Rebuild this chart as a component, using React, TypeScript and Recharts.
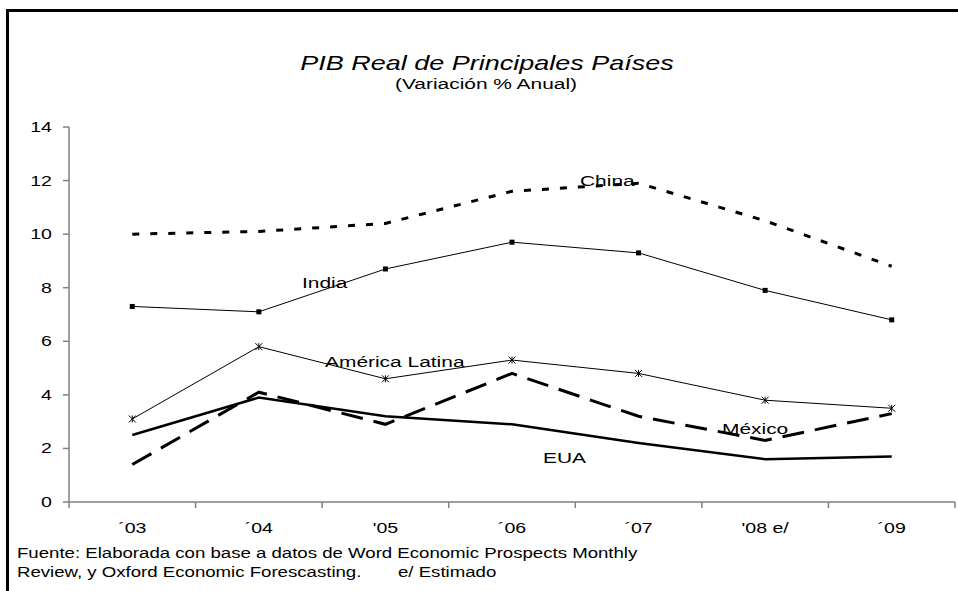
import React from "react";
import { LineChart, Line, XAxis, YAxis } from "recharts";

// Variación % anual del PIB real
const years = ["´03", "´04", "'05", "´06", "´07", "'08 e/", "´09"];
const china = [10.0, 10.1, 10.4, 11.6, 11.9, 10.5, 8.8];
const india = [7.3, 7.1, 8.7, 9.7, 9.3, 7.9, 6.8];
const latam = [3.1, 5.8, 4.6, 5.3, 4.8, 3.8, 3.5];
const mexico = [1.4, 4.1, 2.9, 4.8, 3.2, 2.3, 3.3];
const eua = [2.5, 3.9, 3.2, 2.9, 2.2, 1.6, 1.7];
const yTicks = [0, 2, 4, 6, 8, 10, 12, 14];

const data = years.map((y, i) => ({
  year: y,
  china: china[i],
  india: india[i],
  latam: latam[i],
  mexico: mexico[i],
  eua: eua[i],
}));

const FONT = '"Liberation Sans", Arial, sans-serif';
const SX = 1.35; // el original está estirado en horizontal
const AXIS = "#808080";
const TICK = 6;
const X_MARGIN = 4;

function Txt({ x, y, size, children, anchor = "start", italic = false }: any) {
  return (
    <text
      transform={`translate(${x},${y}) scale(${SX},1)`}
      textAnchor={anchor}
      fontSize={size}
      fontStyle={italic ? "italic" : "normal"}
      fontFamily={FONT}
      fill="#000"
    >
      {children}
    </text>
  );
}

function XTick(props: any) {
  const { x, y, payload, index, visibleTicksCount } = props;
  const axisY = y - TICK - X_MARGIN;
  const off = payload.offset ?? 0;
  return (
    <g>
      <line x1={x - off} x2={x - off} y1={axisY} y2={axisY + TICK} stroke={AXIS} strokeWidth={1.5} />
      {index === visibleTicksCount - 1 && (
        <line x1={x + off} x2={x + off} y1={axisY} y2={axisY + TICK} stroke={AXIS} strokeWidth={1.5} />
      )}
      <Txt x={x} y={y + 21} size={14.5} anchor="middle">
        {payload.value}
      </Txt>
    </g>
  );
}

function YTick(props: any) {
  const { x, y, payload } = props;
  return (
    <Txt x={x} y={y + 5} size={14.5} anchor="end">
      {payload.value}
    </Txt>
  );
}

function SquareDot(props: any) {
  const { cx, cy, index } = props;
  return <rect key={`sq-${index}`} x={cx - 2.5} y={cy - 2.5} width={5} height={5} fill="#000" />;
}

function StarDot(props: any) {
  const { cx, cy, index } = props;
  const r = 3.5;
  return (
    <g key={`st-${index}`} stroke="#000" strokeWidth={1}>
      <line x1={cx} x2={cx} y1={cy - r} y2={cy + r} />
      <line x1={cx - r} x2={cx + r} y1={cy - r} y2={cy + r} />
      <line x1={cx - r} x2={cx + r} y1={cy + r} y2={cy - r} />
    </g>
  );
}

export default function App() {
  return (
    <div style={{ position: "absolute", left: 0, top: 0, width: 958, height: 591, background: "#fff", overflow: "hidden" }}>
      <div
        style={{
          position: "absolute",
          left: 6,
          top: 9,
          width: 960,
          height: 600,
          borderLeft: "3px solid #000",
          borderTop: "3px solid #000",
        }}
      />
      <div style={{ position: "absolute", left: 0, top: 0 }}>
        <LineChart width={958} height={591} data={data} margin={{ top: 127, right: 3, bottom: 59, left: 0 }}>
          <XAxis
            dataKey="year"
            scale="band"
            height={30}
            stroke={AXIS}
            axisLine={{ stroke: AXIS, strokeWidth: 1.5 }}
            tickLine={false}
            tickSize={TICK}
            tickMargin={X_MARGIN}
            tick={<XTick />}
            interval={0}
          />
          <YAxis
            width={69}
            domain={[0, 14]}
            ticks={yTicks}
            interval={0}
            axisLine={{ stroke: AXIS, strokeWidth: 1.5 }}
            tickLine={{ stroke: AXIS, strokeWidth: 1.5 }}
            tickSize={TICK}
            tickMargin={11}
            tick={<YTick />}
          />
          <Line dataKey="china" type="linear" stroke="#000" strokeWidth={3} strokeDasharray="7 11" dot={false} isAnimationActive={false} />
          <Line dataKey="india" type="linear" stroke="#000" strokeWidth={1} dot={<SquareDot />} isAnimationActive={false} />
          <Line dataKey="latam" type="linear" stroke="#000" strokeWidth={1} dot={<StarDot />} isAnimationActive={false} />
          <Line dataKey="mexico" type="linear" stroke="#000" strokeWidth={3} strokeDasharray="22 11" dot={false} isAnimationActive={false} />
          <Line dataKey="eua" type="linear" stroke="#000" strokeWidth={2.5} dot={false} isAnimationActive={false} />
        </LineChart>
      </div>
      <svg width={958} height={591} style={{ position: "absolute", left: 0, top: 0, pointerEvents: "none" }}>
        <Txt x={487} y={70} size={20} anchor="middle" italic>
          PIB Real de Principales Países
        </Txt>
        <Txt x={486} y={89} size={15.5} anchor="middle">
          (Variación % Anual)
        </Txt>
        <Txt x={580} y={186} size={15.5}>China</Txt>
        <Txt x={302} y={288} size={15.5}>India</Txt>
        <Txt x={325} y={367} size={15.5}>América Latina</Txt>
        <Txt x={722} y={434} size={15.5}>México</Txt>
        <Txt x={543} y={463} size={15.5}>EUA</Txt>
        <Txt x={17} y={558} size={13.8}>
          Fuente: Elaborada con base a datos de Word Economic Prospects Monthly
        </Txt>
        <Txt x={17} y={577} size={13.8}>
          Review, y Oxford Economic Forescasting.
        </Txt>
        <Txt x={398} y={577} size={13.8}>
          e/ Estimado
        </Txt>
      </svg>
    </div>
  );
}
